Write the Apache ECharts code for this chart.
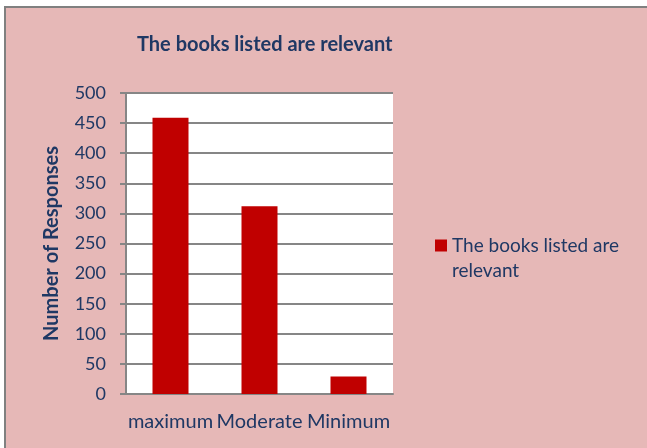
<!DOCTYPE html>
<html>
<head>
<meta charset="utf-8">
<script src="https://cdn.jsdelivr.net/npm/echarts@6/dist/echarts.min.js"></script>
<style>
html,body{margin:0;padding:0;background:#fff;}
#main{width:647px;height:448px;}
</style>
</head>
<body>
<div id="main"></div>
<script>
// data
var categories = ['maximum', 'Moderate', 'Minimum'];
var responses = [459, 312, 29];
var seriesName = 'The books listed are relevant';

var navy = '#1f3864';
var myChart = echarts.init(document.getElementById('main'));
myChart.setOption({
    backgroundColor: '#fff',
    graphic: [{
        type: 'rect',
        z: -10,
        shape: { x: 5, y: 7, width: 700, height: 500 },
        style: { fill: '#e6b8b7', stroke: '#808080', lineWidth: 2 }
    }, {
        // white plot background
        type: 'rect',
        z: -5,
        shape: { x: 126, y: 93, width: 267, height: 301 },
        style: { fill: '#fff' }
    }, {
        // second line of the legend text
        type: 'text',
        left: 452,
        top: 261,
        style: { text: 'relevant', fill: navy, fontSize: 19, fontFamily: 'Lato' }
    }],
    title: {
        text: 'The books listed are relevant',
        left: 132,
        top: 30,
        textStyle: { color: navy, fontSize: 20, fontWeight: 'bold', fontFamily: 'Lato' }
    },
    grid: { left: 126, right: 254, top: 93, bottom: 54 },
    legend: {
        left: 430,
        top: 228,
        orient: 'vertical',
        itemWidth: 12,
        itemHeight: 12,
        itemGap: 5,
        icon: 'rect',
        formatter: function () { return 'The books listed are'; },
        textStyle: { color: navy, fontSize: 19, fontFamily: 'Lato', lineHeight: 25 },
        data: [seriesName]
    },
    xAxis: {
        type: 'category',
        data: categories,
        axisLine: { lineStyle: { color: '#868686', width: 2 } },
        axisTick: { show: false },
        axisLabel: { color: navy, fontSize: 20, fontFamily: 'Lato', margin: 18, interval: 0, hideOverlap: false }
    },
    yAxis: {
        type: 'value',
        min: 0,
        max: 500,
        interval: 50,
        name: 'Number of Responses',
        nameLocation: 'middle',
        nameGap: 64,
        nameTextStyle: { color: navy, fontSize: 20, fontWeight: 'bold', fontFamily: 'Lato' },
        axisLine: { show: true, lineStyle: { color: '#868686', width: 2 } },
        axisTick: { show: true, length: 6, lineStyle: { color: '#868686', width: 2 } },
        axisLabel: { color: navy, fontSize: 18, fontFamily: 'Lato', margin: 20 },
        splitLine: { lineStyle: { color: '#868686', width: 2 } }
    },
    series: [{
        name: seriesName,
        type: 'bar',
        data: responses,
        barWidth: 36,
        itemStyle: { color: '#c00000' }
    }]
});
</script>
</body>
</html>
